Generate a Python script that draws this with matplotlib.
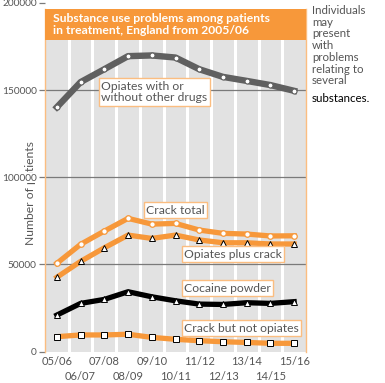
import numpy as np
import matplotlib.pyplot as plt
from matplotlib.patches import Rectangle

plt.rcParams['font.family'] = ['Lato', 'DejaVu Sans']

# %% DATA
years = ['05/06', '06/07', '07/08', '08/09', '09/10', '10/11',
         '11/12', '12/13', '13/14', '14/15', '15/16']
opiates = [140200, 154600, 162000, 169500, 169900, 168700,
           162000, 157600, 155300, 152900, 149600]
crack_total = [50600, 61500, 69100, 76400, 73100, 73500,
               69700, 67800, 67400, 66300, 66400]
opiates_plus_crack = [42600, 51700, 59500, 66800, 64900, 66800,
                      64000, 62400, 62400, 61700, 61700]
cocaine_powder = [20900, 27600, 29900, 34300, 31400, 29100,
                  27200, 27000, 28000, 27600, 28600]
crack_not_opiates = [8500, 9500, 9500, 9900, 8100, 7000,
                     6200, 5600, 5200, 4700, 4700]
y_ticks = [0, 50000, 100000, 150000, 200000]

ORANGE = '#f7983a'
LIGHT_ORANGE = '#fbbd80'
GREY_BG = '#e2e2e2'
TEXT = '#555555'

W, H = 385, 383
fig = plt.figure(figsize=(W / 100, H / 100), dpi=100)

def px(x, y):
    # pixel position -> figure fraction
    return x / W, 1 - y / H

ax_left, ax_right, ax_top, ax_bot = 45, 306, 3, 351.5
ax = fig.add_axes([ax_left / W, 1 - ax_bot / H,
                   (ax_right - ax_left) / W, (ax_bot - ax_top) / H])
ax.set_facecolor('none')
ax.set_xlim(-0.5, len(years) - 0.5)
ax.set_ylim(0, 200000)

# grey plot area below the title box, orange title box on top
title_bot = (ax_bot - 40) / (ax_bot - ax_top)
title_top = (ax_bot - 9) / (ax_bot - ax_top)
ax.add_patch(Rectangle((0, 0), 1, title_bot, transform=ax.transAxes,
                       facecolor=GREY_BG, edgecolor='none', zorder=0))
ax.add_patch(Rectangle((0, title_bot), 1, title_top - title_bot,
                       transform=ax.transAxes, facecolor=ORANGE,
                       edgecolor='none', zorder=5))
ax.text(0.03, (title_bot + title_top) / 2,
        'Substance use problems among patients\nin treatment, England from 2005/06',
        transform=ax.transAxes, ha='left', va='center', color='white',
        fontsize=8.7, fontweight='bold', linespacing=1.05, zorder=6)

# white separators between years
x = np.arange(len(years))
for xv in x[:-1] + 0.5:
    ax.axvline(xv, ymax=title_bot, color='white', lw=2.2, zorder=1)
for yv in y_ticks[1:-1]:
    ax.axhline(yv, color='#7a7a7a', lw=0.9, zorder=1)

for s in ['top', 'bottom']:
    ax.spines[s].set_visible(False)
for s in ['left', 'right']:
    ax.spines[s].set_color(LIGHT_ORANGE)
    ax.spines[s].set_linewidth(1.0)
    ax.spines[s].set_bounds(0, 200000 * title_top)

# series
ax.plot(x, opiates, color='#606060', lw=4.6, marker='o', ms=3.6,
        mfc='white', mec='#606060', mew=0.8, zorder=3)
ax.plot(x, crack_total, color=ORANGE, lw=3.8, marker='o', ms=4,
        mfc='white', mec=ORANGE, mew=0.9, zorder=3)
ax.plot(x, opiates_plus_crack, color=ORANGE, lw=3.8, marker='^', ms=4.5,
        mfc='white', mec='black', mew=0.7, zorder=3)
ax.plot(x, cocaine_powder, color='black', lw=3.8, marker='^', ms=4.5,
        mfc='white', mec='black', mew=0.7, zorder=3)
ax.plot(x, crack_not_opiates, color=ORANGE, lw=3.8, marker='s', ms=4,
        mfc='white', mec='black', mew=0.7, zorder=3)

# series labels
box = dict(boxstyle='square,pad=0.2', facecolor='white', edgecolor=LIGHT_ORANGE, lw=1)
labels = [('Opiates with or\nwithout other drugs', 101, 92),
          ('Crack total', 146, 210),
          ('Opiates plus crack', 184, 254),
          ('Cocaine powder', 184, 288),
          ('Crack but not opiates', 184, 328)]
for txt, lx, ly in labels:
    fig.text(*px(lx, ly), txt, ha='left', va='center', fontsize=8.7,
             color=TEXT, bbox=box, linespacing=1.1, zorder=7)

# axes ticks: y labels get a white backing so the axis title runs behind them
ax.set_yticks(y_ticks)
ax.set_yticklabels([str(v) for v in y_ticks])
ax.tick_params(axis='y', length=4.5, width=0.9, color='#7a7a7a', pad=1.5,
               labelsize=7.3, labelcolor=TEXT)
for t in ax.get_yticklabels():
    t.set_bbox(dict(facecolor='white', edgecolor='none', pad=0.5))

# two staggered rows of year labels
ax.set_xticks(x[::2])
ax.set_xticklabels(years[::2])
ax.set_xticks(x[1::2], minor=True)
ax.set_xticklabels(years[1::2], minor=True)
ax.tick_params(axis='x', which='major', length=0, pad=3, labelsize=8, labelcolor=TEXT)
ax.tick_params(axis='x', which='minor', length=0, pad=14, labelsize=8, labelcolor=TEXT)

fig.text(*px(30, 193), 'Number of patients', rotation=90, ha='center',
         va='center', fontsize=8.7, color=TEXT, zorder=-1)

# side note
fig.text(*px(312, 5), 'Individuals\nmay\npresent\nwith\nproblems\nrelating to\nseveral',
         ha='left', va='top', fontsize=8.3, color=TEXT, linespacing=1.08)
fig.text(*px(312, 93.5), 'substances.', ha='left', va='top', fontsize=8.3,
         color='black')

fig.savefig('out.png', dpi=100)
